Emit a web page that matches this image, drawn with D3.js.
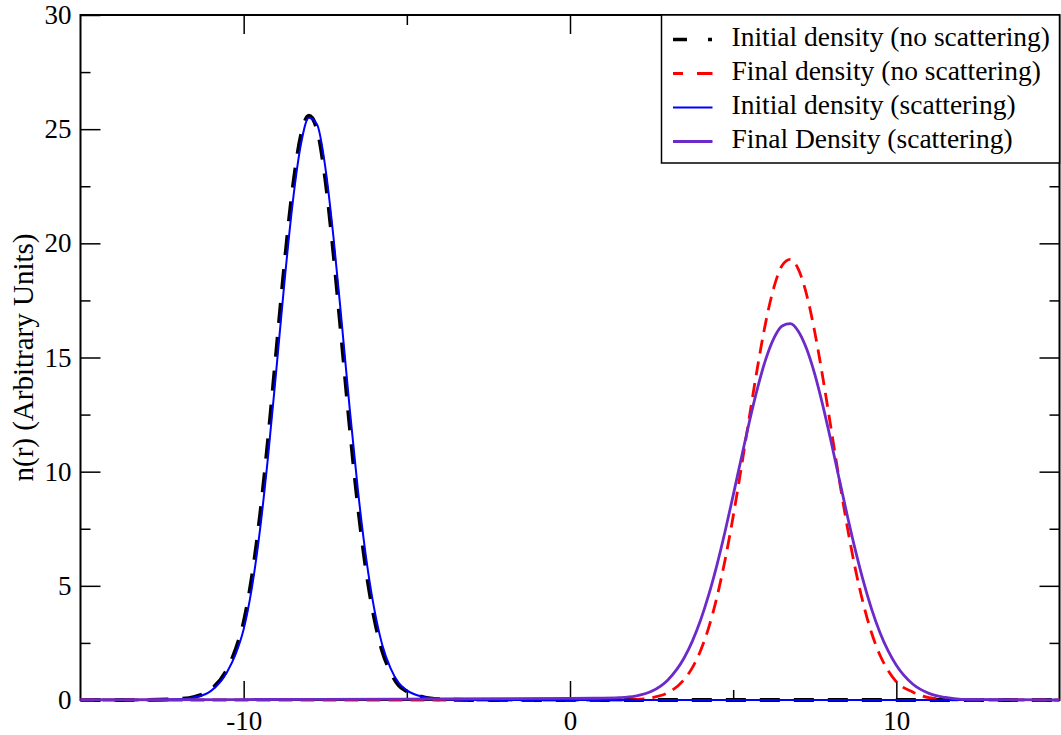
<!DOCTYPE html>
<html>
<head>
<meta charset="utf-8">
<script src="https://cdn.jsdelivr.net/npm/d3@7"></script>
<style>
body { margin: 0; background: #fff; }
text { font-family: "Liberation Serif", "Times New Roman", serif; fill: #000; }
</style>
</head>
<body>
<svg class="chart" width="1061" height="735"></svg>
<script>
// r grid for the initial (left) peak
var rInit = [-15, -13, -12, -11.5, -11, -10.5, -10.25, -10, -9.75, -9.5, -9.25, -9, -8.75, -8.5, -8.25,
             -8, -7.75, -7.5, -7.25, -7, -6.75, -6.5, -6.25, -6, -5.75, -5.5, -5.25, -5, -4.5, -4,
             -3.5, -3, 0, 5, 10, 15];
var initNoScat = [0, 0, 0.04, 0.14, 0.46, 1.36, 2.19, 3.39, 5.34, 8.03, 11.4, 15.21, 19.03, 22.35, 24.68,
                  25.59, 24.99, 22.86, 19.63, 15.85, 12.01, 8.55, 5.73, 3.62, 2.14, 1.24, 0.65, 0.38, 0.12, 0.03,
                  0.01, 0, 0, 0, 0, 0];
var initScat   = [0, 0, 0.03, 0.12, 0.4, 1.25, 2.0, 3.1, 4.9, 7.45, 10.7, 14.45, 18.3, 21.75, 24.3,
                  25.5, 25.2, 23.35, 20.3, 16.6, 12.75, 9.2, 6.25, 4.0, 2.4, 1.4, 0.75, 0.42, 0.14, 0.04,
                  0.01, 0, 0, 0, 0, 0];

// r grid for the final (right) peak
var rFinal = [-15, -10, -5, 0, 1, 1.5, 2, 2.5, 3, 3.5, 3.75, 4, 4.25, 4.5, 4.75, 5, 5.25, 5.5, 5.75, 6, 6.25,
              6.5, 6.75, 7, 7.25, 7.5, 7.75, 8, 8.25, 8.5, 8.75, 9, 9.25, 9.5, 9.75, 10, 10.5, 11,
              11.5, 12, 15];
var finalNoScat = [0, 0, 0, 0, 0, 0, 0.02, 0.1, 0.32, 0.9, 1.42, 2.16, 3.17, 4.49, 6.12, 8.04, 10.18, 12.43, 14.61, 16.56, 18.08,
                   19.03, 19.3, 18.86, 17.76, 16.12, 14.1, 11.89, 9.66, 7.56, 5.7, 4.15, 2.9, 1.96, 1.28, 0.8, 0.35, 0.1,
                   0.03, 0, 0];
var finalScat   = [0.01, 0.02, 0.04, 0.07, 0.08, 0.1, 0.17, 0.38, 0.88, 1.85, 2.58, 3.49, 4.6, 5.9, 7.37, 8.96, 10.6, 12.21, 13.68, 14.93, 15.85,
                   16.38, 16.48, 16.14, 15.38, 14.27, 12.88, 11.32, 9.68, 8.06, 6.53, 5.15, 3.95, 2.95, 2.15, 1.52, 0.7, 0.29,
                   0.11, 0.03, 0];

var seriesNames = ["Initial density (no scattering)", "Final density (no scattering)",
                   "Initial density (scattering)", "Final Density (scattering)"];

var xTicks = [-10, 0, 10],
    xMinorTicks = [-5, 5],
    yTicks = [0, 5, 10, 15, 20, 25, 30],
    yMinorTicks = [2.5, 7.5, 12.5, 17.5, 22.5, 27.5];
var yLabel = "n(r) (Arbitrary Units)";

var svg = d3.select(".chart"),
    margin = {top: 15, right: 1.5, bottom: 35, left: 80.5},
    width = +svg.attr("width") - margin.left - margin.right,
    height = +svg.attr("height") - margin.top - margin.bottom,
    g = svg.append("g").attr("transform", "translate(" + margin.left + "," + margin.top + ")");

var x = d3.scaleLinear().domain([-15, 15]).range([0, width]);
var y = d3.scaleLinear().domain([0, 30]).range([height, 0]);

var series = [
  {name: seriesNames[0], r: rInit,  n: initNoScat,  color: "#000000", w: 4,   dash: "20,14", legendDash: "14,21,4,20"},
  {name: seriesNames[1], r: rFinal, n: finalNoScat, color: "#ff0000", w: 2.8, dash: "14,8",  legendDash: "10,14,16"},
  {name: seriesNames[2], r: rInit,  n: initScat,    color: "#0000ff", w: 2,   dash: null,    legendDash: null},
  {name: seriesNames[3], r: rFinal, n: finalScat,   color: "#6c2bc9", w: 2.8, dash: null,    legendDash: null}
];

svg.append("defs").append("clipPath").attr("id", "clip")
  .append("rect").attr("x", -1).attr("y", -1).attr("width", width + 2).attr("height", height + 4);

var line = d3.line()
    .x(function(d) { return x(d[0]); })
    .y(function(d) { return y(d[1]); })
    .curve(d3.curveMonotoneX);

// axes, ticks pointing inward
function styleAxis(sel) {
  sel.select(".domain").remove();
  sel.selectAll(".tick line").attr("stroke", "#000").attr("stroke-width", 1.5);
  sel.selectAll(".tick text").style("font-size", "27px").style("font-family", "'Liberation Serif', serif").attr("fill", "#000");
}
var fmt = function(d) { return String(d); };

g.append("g").attr("transform", "translate(0," + height + ")")
  .call(d3.axisBottom(x).tickValues(xTicks).tickFormat(fmt).tickSizeInner(-19).tickSizeOuter(0).tickPadding(11))
  .call(styleAxis);
g.append("g").attr("transform", "translate(0," + height + ")")
  .call(d3.axisBottom(x).tickValues(xMinorTicks).tickFormat("").tickSizeInner(-10).tickSizeOuter(0))
  .call(styleAxis);
g.append("g")
  .call(d3.axisTop(x).tickValues(xTicks).tickFormat("").tickSizeInner(-19).tickSizeOuter(0))
  .call(styleAxis);
g.append("g")
  .call(d3.axisTop(x).tickValues(xMinorTicks).tickFormat("").tickSizeInner(-10).tickSizeOuter(0))
  .call(styleAxis);

g.append("g")
  .call(d3.axisLeft(y).tickValues(yTicks).tickFormat(fmt).tickSizeInner(-20).tickSizeOuter(0).tickPadding(9))
  .call(styleAxis);
g.append("g")
  .call(d3.axisLeft(y).tickValues(yMinorTicks).tickFormat("").tickSizeInner(-10).tickSizeOuter(0))
  .call(styleAxis);
g.append("g").attr("transform", "translate(" + width + ",0)")
  .call(d3.axisRight(y).tickValues(yTicks).tickFormat("").tickSizeInner(-20).tickSizeOuter(0))
  .call(styleAxis);
g.append("g").attr("transform", "translate(" + width + ",0)")
  .call(d3.axisRight(y).tickValues(yMinorTicks).tickFormat("").tickSizeInner(-10).tickSizeOuter(0))
  .call(styleAxis);

// frame
g.append("rect")
  .attr("width", width).attr("height", height)
  .attr("fill", "none").attr("stroke", "#000").attr("stroke-width", 2);

// curves drawn over the frame so the zero-level dashes show on the axis
var plot = g.append("g").attr("clip-path", "url(#clip)");
series.forEach(function(s) {
  plot.append("path")
      .datum(d3.zip(s.r, s.n))
      .attr("fill", "none")
      .attr("stroke", s.color)
      .attr("stroke-width", s.w)
      .attr("stroke-dasharray", s.dash)
      .attr("stroke-linejoin", "round")
      .attr("d", line);
});

// y label
svg.append("text")
  .attr("transform", "translate(33," + (margin.top + height / 2) + ") rotate(-90)")
  .attr("text-anchor", "middle")
  .style("font-size", "29px")
  .text(yLabel);

// legend
var legend = g.append("g").attr("transform", "translate(" + (x(15) - 398) + ",0)");
legend.append("rect")
  .attr("width", 398).attr("height", 148)
  .attr("fill", "#fff").attr("stroke", "#000").attr("stroke-width", 1.5);
series.forEach(function(s, i) {
  var ly = 24.5 + i * 34;
  legend.append("line")
    .attr("x1", 11.5).attr("x2", 51).attr("y1", ly).attr("y2", ly)
    .attr("stroke", s.color).attr("stroke-width", Math.min(s.w, 3.3))
    .attr("stroke-dasharray", s.legendDash);
  legend.append("text")
    .attr("x", 70).attr("y", ly + 6)
    .style("font-size", "27.5px")
    .text(s.name);
});
</script>
</body>
</html>
